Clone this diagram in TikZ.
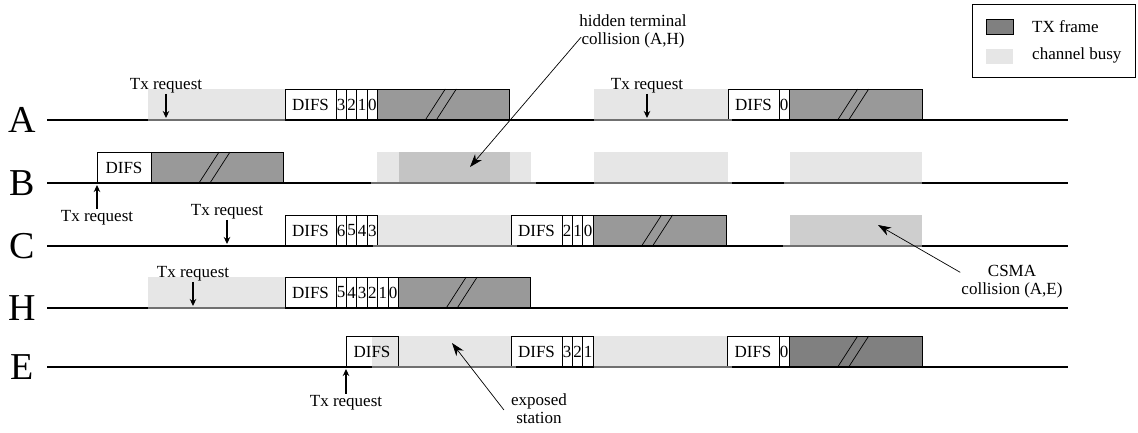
\documentclass[tikz,border=0pt]{standalone}
\usepackage{fontspec}
\setmainfont{Liberation Serif}
\usetikzlibrary{arrows.meta,calc}

\definecolor{framegray}{HTML}{999999}
\definecolor{framedark}{HTML}{808080}
\definecolor{busygray}{HTML}{E6E6E6}
\definecolor{collgray}{HTML}{CECECE}
\definecolor{busyedge}{HTML}{707070}

\newcommand\lblfont{\fontsize{17}{18}\selectfont}
\newcommand\rowfont{\fontsize{38}{40}\selectfont}

% two strokes across the middle of a frame
\newcommand\slashes[1]{%
  \draw[slash] ($(#1.south)+(-18,0)$) -- ($(#1.north)+(2,0)$);
  \draw[slash] ($(#1.south)+(-7,0)$) -- ($(#1.north)+(13,0)$);}

\begin{document}
\begin{tikzpicture}[x=1pt,y=-1pt,
  cell/.style={draw,line width=0.8pt,minimum height=31pt,inner sep=0pt,outer sep=0pt,anchor=south west,font=\lblfont},
  difsbox/.style={cell,fill=white,minimum width=#1},
  difsbox/.default=51pt,
  slotbox/.style={cell,fill=white,minimum width=10.4pt},
  txframe/.style={cell,fill=framegray,minimum width=#1},
  txdark/.style={cell,fill=framedark,minimum width=#1},
  busy/.style={fill=busygray,minimum height=31pt,inner sep=0pt,outer sep=0pt,anchor=south west,minimum width=#1},
  coll/.style={busy=#1,fill=collgray},
  busyline/.style={busyedge,line width=2pt},
  timeline/.style={black,line width=2pt},
  slash/.style={line width=0.7pt},
  rowname/.style={font=\rowfont,inner sep=0pt},
  req/.style={font=\lblfont,inner sep=1pt,anchor=base},
  reqarrow/.style={line width=1.4pt,-{Stealth[length=7pt,width=6.5pt]}},
  note/.style={font=\lblfont,align=center,inner sep=1pt},
  notearrow/.style={line width=0.7pt,-{Stealth[length=13pt,width=9pt,inset=4pt]}}
]
\useasboundingbox (0,0) rectangle (1138,432);

% ---------- busy periods and collisions ----------
\node[busy=137pt] (bA1) at (148,120) {};
\node[busy=134pt] (bA2) at (594,120) {};
\node[busy=154pt] (bB1) at (377,183) {};
\node[coll=111pt,fill=collgray!95!black] (cB1) at (399,183) {};
\node[busy=134pt] (bB2) at (594,183) {};
\node[busy=132pt] (bB3) at (790,183) {};
\node[busy=133.4pt] (bC1) at (377.6,246) {};
\node[coll=132pt] (cC1) at (790,246) {};
\node[busy=137pt] (bH1) at (148,308) {};
\node[busy=139pt] (bE1) at (372,367) {};
\node[busy=133pt] (bE2) at (594,367) {};

% ---------- station A ----------
\node[difsbox] (dA1) at (285,120) {DIFS};
\foreach \d [count=\i from 0] in {3,2,1,0}
  \node[slotbox] (sA1\i) at ({336+10.4*\i},120) {\d};
\node[txframe=131.4pt] (fA1) at (377.6,120) {};
\slashes{fA1}
\node[difsbox] (dA2) at (728,120) {DIFS};
\node[slotbox] (sA2) at (779,120) {0};
\node[txframe=132.6pt] (fA2) at (789.4,120) {};
\slashes{fA2}

% ---------- station B ----------
\node[difsbox=54pt] (dB1) at (97,183) {DIFS};
\node[txframe=132pt] (fB1) at (151,183) {};
\slashes{fB1}

% ---------- station C ----------
\node[difsbox] (dC1) at (285,246) {DIFS};
\foreach \d [count=\i from 0] in {6,5,4,3}
  \node[slotbox] (sC1\i) at ({336+10.4*\i},246) {\d};
\node[difsbox] (dC2) at (511,246) {DIFS};
\foreach \d [count=\i from 0] in {2,1,0}
  \node[slotbox] (sC2\i) at ({562+10.4*\i},246) {\d};
\node[txframe=132.8pt] (fC2) at (593.2,246) {};
\slashes{fC2}

% ---------- station H ----------
\node[difsbox] (dH1) at (285,308) {DIFS};
\foreach \d [count=\i from 0] in {5,4,3,2,1,0}
  \node[slotbox] (sH1\i) at ({336+10.4*\i},308) {\d};
\node[txframe=131.6pt] (fH1) at (398.4,308) {};
\slashes{fH1}

% ---------- station E ----------
\node[cell,minimum width=52pt] (dE1) at (346,367) {DIFS};
\node[difsbox] (dE2) at (511,367) {DIFS};
\foreach \d [count=\i from 0] in {3,2,1}
  \node[slotbox] (sE2\i) at ({562+10.4*\i},367) {\d};
\node[difsbox=52pt] (dE3) at (727,367) {DIFS};
\node[slotbox] (sE3) at (779,367) {0};
\node[txdark=132.6pt] (fE3) at (789.4,367) {};
\slashes{fE3}

% ---------- time axes ----------
\foreach \r/\y in {A/120,B/183,C/246,H/308,E/367}{
  \node[rowname] (row\r) at (22,\y) {\r};
  \coordinate (st\r) at (47,\y);
  \coordinate (en\r) at (1068,\y);
  \draw[timeline] (st\r) -- (en\r);
}

% medium-busy marks on the axes
\draw[busyline] (bA1.south west) -- (bA1.south east);
\draw[busyline] (bA2.south west) -- ($(bA2.south east)+(4,0)$);
\draw[busyline] ($(bB1.south west)+(-6,0)$) -- ($(bB1.south east)+(5,0)$);
\draw[busyline] (bB2.south west) -- ($(bB2.south east)+(4,0)$);
\draw[busyline] ($(bB3.south west)+(-6,0)$) -- (bB3.south east);
\draw[busyline] ($(bC1.south west)+(-5,0)$) -- ($(bC1.south east)+(6,0)$);
\draw[busyline] ($(cC1.south west)+(-7,0)$) -- (cC1.south east);
\draw[busyline] (bH1.south west) -- (bH1.south east);
\draw[busyline] (bE1.south west) -- ($(bE1.south east)+(5,0)$);
\draw[busyline] (bE2.south west) -- ($(bE2.south east)+(5,0)$);

% ---------- transmission requests ----------
\node[req] (tA1) at (166,89) {Tx request};
\coordinate (hA1) at (166,118);
\draw[reqarrow] (tA1.south) -- (hA1);
\node[req] (tA2) at (647,89) {Tx request};
\coordinate (hA2) at (647,118);
\draw[reqarrow] (tA2.south) -- (hA2);
\node[req] (tB1) at (97,221) {Tx request};
\coordinate (hB1) at (97,185);
\draw[reqarrow] (tB1.north) -- (hB1);
\node[req] (tC1) at (227,215) {Tx request};
\coordinate (hC1) at (227,244);
\draw[reqarrow] (tC1.south) -- (hC1);
\node[req] (tH1) at (193,277) {Tx request};
\coordinate (hH1) at (193,306);
\draw[reqarrow] (tH1.south) -- (hH1);
\node[req] (tE1) at (346,406) {Tx request};
\coordinate (hE1) at (346,369);
\draw[reqarrow] (tE1.north) -- (hE1);

% ---------- annotations ----------
\node[note] (hid) at (633,31) {hidden terminal\\collision (A,H)};
\coordinate (hidtip) at (470,167);
\draw[notearrow] ($(hid.west)+(3,6)$) -- (hidtip);

\node[note] (csma) at (1012,282) {CSMA\\collision (A,E)};
\coordinate (csmatip) at (878,225);
\draw[notearrow] ($(csma.north west)+(0,8)$) -- (csmatip);

\node[note] (expo) at (539,409) {exposed\\station};
\coordinate (expotip) at (452,343);
\draw[notearrow] ($(expo.west)+(-6,1)$) -- (expotip);

% ---------- legend ----------
\node[draw,line width=1pt,minimum width=163pt,minimum height=73pt,inner sep=0pt,outer sep=0pt,anchor=north west] (legend) at (972,4) {};
\node[draw,line width=0.8pt,fill=framedark,minimum width=27pt,minimum height=15pt,inner sep=0pt,outer sep=0pt,anchor=north west] (keyTX) at (986,19) {};
\node[fill=busygray,minimum width=27pt,minimum height=15pt,inner sep=0pt,outer sep=0pt,anchor=north west] (keyBusy) at (986,49) {};
\node[font=\lblfont,inner sep=0pt,anchor=base west] (keyTXtext) at (1032,32) {TX frame};
\node[font=\lblfont,inner sep=0pt,anchor=base west] (keyBusytext) at (1032,59) {channel busy};
\end{tikzpicture}
\end{document}
